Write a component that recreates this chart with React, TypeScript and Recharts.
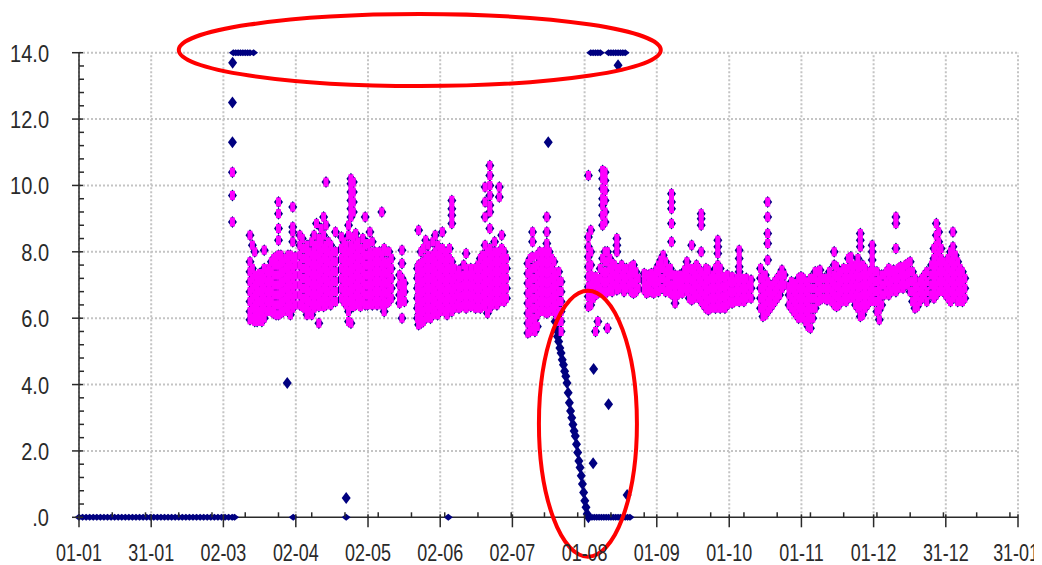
import React from 'react'
import { ScatterChart, Scatter, XAxis, YAxis, ReferenceLine, ReferenceDot } from 'recharts'

// axis ticks (day of year / value)
const dayTicks = [0, 30.4, 60.8, 91.3, 121.7, 152.1, 182.5, 212.9, 243.3, 273.8, 304.2, 334.6, 365, 395.4]
const dayLabels = ['01-01', '31-01', '02-03', '02-04', '02-05', '02-06', '02-07', '01-08', '01-09', '01-10', '01-11', '01-12', '31-12', '31-01']
const minorDayTicks = [14, 28, 42, 56, 70, 84, 98, 112, 126, 140, 154, 168, 182, 196, 210, 224, 238, 252, 266, 280, 294, 308, 322, 336, 350, 364, 378, 392]
const valueTicks = [0, 0.4, 0.8, 1.2, 1.6, 2, 2.4, 2.8, 3.2, 3.6, 4, 4.4, 4.8, 5.2, 5.6, 6, 6.4, 6.8, 7.2, 7.6, 8, 8.4, 8.8, 9.2, 9.6, 10, 10.4, 10.8, 11.2, 11.6, 12, 12.4, 12.8, 13.2, 13.6, 14]
const majorValues = [0, 2, 4, 6, 8, 10, 12, 14]
const valueLabels = ['.0', '2.0', '4.0', '6.0', '8.0', '10.0', '12.0', '14.0']

// raw readings only (not kept)
const zeroDays = [0, 1.5, 3, 4.5, 6, 7.5, 9, 10.5, 12, 13.5, 15, 16.5, 18, 19.5, 21, 22.5, 24, 25.5, 27, 28.5, 30, 31.5, 33, 34.5, 36, 37.5, 39, 40.5, 42, 43.5, 45, 46.5, 48, 49.5, 51, 52.5, 54, 55.5, 57, 58.5, 60, 61.5, 63, 64.5, 65.5,
  90.2, 112.5, 155.5,
  215, 216, 217, 218, 219, 220, 221, 222, 223, 224, 225, 226, 227, 228, 229, 230, 231, 232]
const capDays = [65, 66, 67, 68, 69, 70, 71, 72, 73.5, 215.5, 216.5, 217.5, 218.5, 219.5, 223, 224, 225, 226, 227, 228, 229, 230]
const rawOutliers = [
  [64.7, 13.7], [64.6, 12.5], [64.6, 11.3], [87.7, 4.05], [112.5, 0.58], [197.6, 11.3],
  [227, 13.62], [216.7, 4.47], [223, 3.41], [216.5, 1.63], [230.8, 0.67],
]
const decline = [
  [200.5, 5.9], [201, 5.65], [201.5, 5.45], [202, 5.3], [202.5, 5.1], [203, 4.95], [203.5, 4.75], [204, 4.6],
  [204.5, 4.4], [205, 4.25], [205.5, 4.05], [206, 3.75], [206.5, 3.45], [207, 3.2], [207.5, 3.0], [208, 2.8],
  [208.5, 2.6], [209, 2.45], [209.5, 2.2], [210, 1.95], [210.5, 1.7], [211, 1.5], [211.5, 1.25], [212, 1.0],
  [212.5, 0.75], [213, 0.5], [213.5, 0.3], [214, 0.1], [214.5, 0],
]

// accepted readings: [day, value, value, ...]
const marchBand = [
  [64.6, 8.9, 9.7, 10.4],
  [72, 5.95, 6.2, 6.5, 6.8, 7.1, 7.4, 7.7, 8.5],
  [73, 6.0, 6.3, 6.6, 6.9, 7.2, 7.5, 8.2],
  [74, 5.9, 6.15, 6.4, 6.7, 7.0, 7.3, 8.0],
  [75, 5.9, 6.1, 6.35, 6.6, 6.9, 7.2],
  [76, 5.95, 6.2, 6.5, 6.8, 7.1, 7.35],
  [77, 5.9, 6.15, 6.4, 6.7, 7.0, 7.3],
  [78, 6.0, 6.3, 6.6, 6.9, 7.2, 7.5, 8.05],
  [79, 6.2, 6.5, 6.8, 7.1, 7.4],
  [80, 6.3, 6.6, 6.9, 7.2, 7.5],
  [81, 6.2, 6.5, 6.8, 7.1, 7.4, 7.7],
  [82, 6.15, 6.4, 6.7, 7.0, 7.3, 7.6, 7.8],
  [83, 6.1, 6.4, 6.7, 7.0, 7.3, 7.6, 7.85],
  [84, 6.1, 6.4, 6.7, 7.0, 7.3, 7.6, 7.9, 8.35, 8.7, 9.15, 9.5],
  [85, 6.15, 6.45, 6.75, 7.05, 7.35, 7.65, 7.9],
  [86, 6.2, 6.5, 6.8, 7.1, 7.4, 7.7],
  [87, 6.3, 6.6, 6.9, 7.2, 7.5, 7.8],
  [88, 6.2, 6.5, 6.8, 7.1, 7.4, 7.7, 7.9],
  [89, 6.1, 6.4, 6.7, 7.0, 7.3, 7.6, 7.9],
  [90, 6.3, 6.6, 6.9, 7.2, 7.5, 7.8, 8.3, 8.6, 8.75, 9.35],
  [91, 6.4, 6.7, 7.0, 7.3, 7.6, 7.85],
]
const aprilBand = [
  [93, 6.4, 6.7, 7.0, 7.3, 7.6, 7.9, 8.2, 8.5],
  [94, 6.35, 6.6, 6.9, 7.2, 7.5, 7.8, 8.1, 8.4],
  [95, 6.3, 6.6, 6.9, 7.2, 7.5, 7.8, 8.1],
  [96, 6.1, 6.4, 6.7, 7.0, 7.3, 7.6, 7.9, 8.2],
  [97, 6.2, 6.5, 6.8, 7.1, 7.4, 7.7, 8.0],
  [98, 6.1, 6.4, 6.7, 7.0, 7.3, 7.6, 7.9, 8.3],
  [99, 6.3, 6.6, 6.9, 7.2, 7.5, 7.8, 8.1, 8.5],
  [100, 6.4, 6.7, 7.0, 7.3, 7.6, 7.9, 8.2, 8.85],
  [101, 5.85, 6.35, 6.6, 6.9, 7.2, 7.5, 7.8, 8.1, 8.4],
  [102, 6.5, 6.8, 7.1, 7.4, 7.7, 8.0, 8.3, 8.7],
  [103, 6.35, 6.6, 6.9, 7.2, 7.5, 7.8, 8.1, 8.5, 9.05],
  [104, 6.4, 6.7, 7.0, 7.3, 7.6, 7.9, 8.2, 8.8, 10.1],
  [105, 6.5, 6.8, 7.1, 7.4, 7.7, 8.0, 8.3],
  [106, 6.4, 6.7, 7.0, 7.3, 7.6, 7.9, 8.2],
  [107, 6.5, 6.8, 7.1, 7.4, 7.7, 8.0],
  [108, 6.5, 6.8, 7.1, 7.4, 7.7, 8.0, 8.6],
]
const mayBand = [
  [110.5, 6.6, 6.9, 7.2, 7.5, 7.8, 8.1, 8.45],
  [111.5, 6.5, 6.8, 7.1, 7.4, 7.7, 8.0, 8.3],
  [112.5, 6.4, 6.7, 7.0, 7.3, 7.6, 7.9, 8.2],
  [113.5, 5.9, 6.2, 6.5, 6.8, 7.1, 7.4, 7.7, 8.0, 8.5, 8.8],
  [114.5, 5.85, 6.4, 6.7, 7.0, 7.3, 7.6, 7.9, 8.2, 9.05, 9.3, 9.55, 9.8, 10.05, 10.2],
  [115.5, 6.35, 6.6, 6.9, 7.2, 7.5, 7.8, 8.1, 8.45, 9.2, 9.5, 9.8, 10.1],
  [116.5, 6.4, 6.7, 7.0, 7.3, 7.6, 7.9, 8.2, 8.55],
  [117.5, 6.5, 6.8, 7.1, 7.4, 7.7, 8.0, 8.3],
  [118.5, 6.35, 6.6, 6.9, 7.2, 7.5, 7.8, 8.1],
  [119.5, 6.5, 6.8, 7.1, 7.4, 7.7, 8.0, 8.4],
  [120.5, 6.4, 6.7, 7.0, 7.3, 7.6, 7.9, 8.2, 9.05],
  [121.5, 6.4, 6.7, 7.0, 7.3, 7.6, 7.9, 8.25],
  [122.5, 6.5, 6.8, 7.1, 7.4, 7.7, 8.0, 8.6],
  [123.5, 6.4, 6.7, 7.0, 7.3, 7.6, 7.9, 8.3],
  [124.5, 6.5, 6.8, 7.1, 7.4, 7.7, 8.0],
  [125.5, 6.4, 6.7, 7.0, 7.3, 7.6, 7.9],
  [126.5, 6.5, 6.8, 7.1, 7.4, 7.7, 8.0],
  [127.5, 6.4, 6.7, 7.0, 7.3, 7.6, 7.9, 9.2],
  [128.5, 6.2, 6.5, 6.8, 7.1, 7.4, 7.7, 8.1],
  [129.5, 6.45, 6.75, 7.05, 7.35, 7.65, 8.0],
  [130.5, 6.5, 6.8, 7.1, 7.4, 7.7, 8.0],
  [131.5, 6.6, 6.9, 7.2, 7.5, 7.8],
  [135, 6.45, 6.7, 7.0, 7.3],
  [136, 6.0, 6.6, 6.9, 7.2, 7.65, 8.05],
  [137, 6.5, 6.8, 7.05],
]
const juneBand = [
  [142.5, 6.0, 6.3, 6.6, 6.9, 7.2, 7.5],
  [143, 5.8, 6.1, 6.4, 6.7, 7.0, 7.3, 7.6, 8.65],
  [144, 5.85, 6.15, 6.45, 6.75, 7.05, 7.35, 7.65, 8.0],
  [145, 5.9, 6.2, 6.5, 6.8, 7.1, 7.4, 7.7, 8.1],
  [146, 6.0, 6.3, 6.6, 6.9, 7.2, 7.5, 7.8, 8.35],
  [147, 6.1, 6.4, 6.7, 7.0, 7.3, 7.6, 7.9, 8.2],
  [148, 6.0, 6.3, 6.6, 6.9, 7.2, 7.5, 7.8],
  [149, 6.1, 6.4, 6.7, 7.0, 7.3, 7.6, 7.9, 8.3],
  [150, 6.2, 6.5, 6.8, 7.1, 7.4, 7.7, 8.0, 8.5],
  [151, 6.1, 6.4, 6.7, 7.0, 7.3, 7.6, 7.9, 8.2],
  [152, 6.2, 6.5, 6.8, 7.1, 7.4, 7.7, 8.0],
  [153, 6.3, 6.6, 6.9, 7.2, 7.5, 7.8, 8.1, 8.6],
  [154, 6.2, 6.5, 6.8, 7.1, 7.4, 7.7, 8.0],
  [155, 6.1, 6.4, 6.7, 7.0, 7.3, 7.6, 7.9],
  [156, 6.3, 6.6, 6.9, 7.2, 7.5, 7.8, 8.1],
  [157, 6.2, 6.5, 6.8, 7.1, 7.4, 7.7, 8.85, 9.1, 9.3, 9.55],
  [158, 6.3, 6.6, 6.9, 7.2, 7.5],
  [159, 6.4, 6.7, 7.0, 7.3],
  [160, 6.3, 6.6, 6.9, 7.2, 7.45],
  [161, 6.35, 6.65, 6.95, 7.25],
  [162, 6.4, 6.7, 7.0, 7.3, 7.6],
  [163, 6.3, 6.6, 6.9, 7.2, 7.5, 7.95],
  [164, 6.4, 6.7, 7.0, 7.3],
  [165, 6.35, 6.65, 6.95, 7.25, 7.5],
  [166, 6.4, 6.7, 7.0, 7.3],
  [167, 6.3, 6.6, 6.9, 7.2, 7.5],
  [168, 6.4, 6.7, 7.0, 7.3, 7.6],
  [169, 6.3, 6.6, 6.9, 7.2, 7.5, 7.8],
  [170, 6.4, 6.7, 7.0, 7.3, 7.6, 7.9],
  [171, 6.35, 6.65, 6.95, 7.25, 7.55, 7.85, 8.2, 9.05, 9.5, 9.95],
  [172, 6.15, 6.5, 6.8, 7.1, 7.4, 7.7, 8.0],
  [173, 6.3, 6.6, 6.9, 7.2, 7.5, 7.8, 8.1, 8.7, 9.2, 9.4, 9.7, 10.0, 10.3, 10.6],
  [174, 6.4, 6.7, 7.0, 7.3, 7.6, 7.9],
  [175, 6.5, 6.8, 7.1, 7.4, 7.7, 8.0, 8.3],
  [176, 6.4, 6.7, 7.0, 7.3, 7.6, 7.9],
  [177, 6.5, 6.8, 7.1, 7.4, 7.7, 8.0, 9.65, 9.95],
  [178, 6.6, 6.9, 7.2, 7.5, 7.8, 8.1, 8.5],
  [179, 6.5, 6.8, 7.1, 7.4, 7.7, 8.0],
  [180, 6.6, 6.9, 7.2, 7.5, 7.8],
]
const julyBand = [
  [189, 5.55, 5.85, 6.15, 6.45, 6.75, 7.05, 7.35, 7.65],
  [190, 5.6, 5.9, 6.2, 6.5, 6.8, 7.1, 7.4, 7.8],
  [191, 5.7, 6.0, 6.3, 6.6, 6.9, 7.2, 7.5, 7.85, 8.3, 8.6],
  [192, 5.6, 5.95, 6.3, 6.6, 6.9, 7.2, 7.55],
  [193, 5.75, 6.1, 6.4, 6.7, 7.0, 7.3, 7.6, 7.9],
  [194, 6.2, 6.5, 6.8, 7.1, 7.4, 7.7, 8.0],
  [195, 6.3, 6.6, 6.9, 7.2, 7.5, 7.8],
  [196, 6.2, 6.5, 6.8, 7.1, 7.4, 7.7, 8.0],
  [197, 6.15, 6.45, 6.75, 7.05, 7.35, 7.65, 7.95, 8.25, 8.6, 9.05],
  [198, 6.2, 6.5, 6.8, 7.1, 7.4, 7.7, 8.0],
  [199, 6.3, 6.6, 6.9, 7.2, 7.5, 7.8],
  [200, 6.2, 6.5, 6.8, 7.1, 7.4, 7.7],
  [201, 6.1, 6.4, 6.7, 7.0, 7.3],
  [202, 5.9, 6.2, 6.5, 6.8, 7.1, 7.4],
  [203, 5.6, 5.9, 6.2, 6.5, 6.8, 7.1],
]
const augustBand = [
  [214.5, 6.35, 6.65, 6.95, 7.25, 7.55, 7.85, 8.15, 8.45, 10.3],
  [215.5, 6.4, 6.7, 7.0, 7.3, 7.6, 8.0, 8.65],
  [216.5, 6.6, 6.9, 7.2],
  [217.5, 5.6, 6.7, 7.0, 7.25],
  [218.5, 5.9, 6.75, 7.1],
  [219.5, 6.9, 7.2, 7.5],
  [220.5, 6.8, 7.1, 7.4, 7.8, 8.8, 9.1, 9.4, 9.6, 9.9, 10.2, 10.45],
  [221.5, 6.75, 7.05, 7.35, 7.7, 8.0, 8.9, 9.2, 9.55, 9.85, 10.15, 10.4],
  [222.5, 5.7, 6.8, 7.1, 7.4, 7.7, 8.0],
  [223.5, 6.9, 7.2, 7.5, 7.8],
  [224.5, 6.8, 7.1, 7.4, 7.65],
  [225.5, 7.0, 7.3, 7.6],
  [226.5, 6.85, 7.15, 7.45, 8.0, 8.2, 8.4],
  [227.5, 6.9, 7.2, 7.5],
  [228.5, 7.0, 7.3, 7.6],
  [229.5, 6.8, 7.1, 7.4],
  [230.5, 6.9, 7.2, 7.5],
  [231.5, 7.0, 7.3],
  [232.5, 6.8, 7.1, 7.4, 7.55],
  [233.5, 6.75, 7.05, 7.35, 7.6],
  [234.5, 6.8, 7.1, 7.4],
  [235.5, 6.9, 7.2],
]
const autumnBand = [
  [238, 6.85, 7.1, 7.35],
  [239, 6.75, 7.0, 7.3],
  [240, 6.8, 7.05, 7.3],
  [241, 6.8, 7.1, 7.35],
  [242, 6.75, 7.05, 7.3],
  [243, 6.9, 7.2, 7.45],
  [244, 6.8, 7.1, 7.4, 7.6],
  [245, 6.9, 7.2, 7.5, 7.75],
  [246, 6.9, 7.2, 7.5, 7.9],
  [247, 6.8, 7.1, 7.4, 7.7],
  [248, 6.9, 7.2, 7.5],
  [249, 6.75, 7.0, 7.3, 7.5],
  [249.5, 8.3, 8.85, 9.3, 9.5, 9.75],
  [250, 6.7, 7.0, 7.3],
  [251, 6.45, 6.75, 7.05, 7.3],
  [252, 6.7, 7.0, 7.25],
  [253, 6.8, 7.05, 7.3],
  [254, 6.75, 7.0, 7.25],
  [255, 6.9, 7.2, 7.45],
  [256, 6.8, 7.1, 7.4, 7.7],
  [257, 6.6, 6.9, 7.2, 7.5],
  [258, 6.55, 6.85, 7.15, 7.45, 8.2],
  [259, 6.6, 6.9, 7.2, 7.5],
  [260, 6.7, 7.0, 7.3, 7.6],
  [261, 6.6, 6.9, 7.2, 7.5],
  [262, 6.5, 6.8, 7.1, 7.4, 8.0, 8.8, 9.0, 9.15],
  [263, 6.4, 6.7, 7.0, 7.3],
  [264, 6.3, 6.6, 6.9, 7.2, 7.5],
  [265, 6.25, 6.55, 6.85, 7.15, 7.45],
  [266, 6.3, 6.6, 6.9, 7.2],
  [267, 6.4, 6.7, 7.0, 7.3],
  [268, 6.3, 6.6, 6.9, 7.2, 7.5],
  [269, 6.4, 6.7, 7.0, 7.3, 7.6, 7.95, 8.15, 8.35],
  [270, 6.3, 6.6, 6.9, 7.2, 7.5],
  [271, 6.35, 6.65, 6.95, 7.25],
  [272, 6.3, 6.6, 6.9, 7.2],
  [273, 6.4, 6.7, 7.0, 7.3],
  [274, 6.5, 6.8, 7.1],
  [275, 6.45, 6.75, 7.05, 7.25],
  [276, 6.5, 6.8, 7.1],
  [277, 6.6, 6.9, 7.2],
  [278, 6.5, 6.8, 7.1, 7.4, 7.55, 7.8, 8.05],
  [279, 6.6, 6.9, 7.2],
  [280, 6.5, 6.8, 7.1],
  [281, 6.6, 6.9, 7.2],
  [282, 6.7, 7.0],
  [283, 6.6, 6.9, 7.15],
  [287, 6.3, 6.6, 6.9, 7.2, 7.5],
  [288, 6.05, 6.35, 6.65, 6.95, 7.25],
  [289, 6.1, 6.4, 6.7, 7.0, 7.3],
  [290, 6.2, 6.5, 6.8, 7.1, 7.75, 8.25, 8.55, 9.05, 9.5],
  [291, 6.3, 6.6, 6.9],
  [292, 6.4, 6.7, 7.0],
  [293, 6.5, 6.8, 7.1],
  [294, 6.6, 6.9, 7.2],
  [295, 6.7, 7.0, 7.3],
  [296, 6.9, 7.2, 7.45],
  [297, 7.0, 7.3],
]
const winterBand = [
  [299, 6.4, 6.7, 6.95],
  [300, 6.3, 6.6, 6.9, 7.1],
  [301, 6.2, 6.5, 6.8, 7.05],
  [302, 6.1, 6.4, 6.7, 7.0],
  [303, 6.0, 6.3, 6.6, 6.9, 7.2],
  [304, 6.1, 6.4, 6.7, 7.0, 7.25],
  [305, 6.0, 6.3, 6.6, 6.9, 7.2],
  [306, 5.9, 6.2, 6.5, 6.8, 7.1],
  [307, 5.75, 6.05, 6.35, 6.65, 6.95],
  [308, 5.7, 6.0, 6.3, 6.6, 6.9, 7.2],
  [309, 6.0, 6.3, 6.6, 6.9, 7.2],
  [310, 6.3, 6.6, 6.9, 7.2, 7.4],
  [311, 6.5, 6.8, 7.1, 7.4],
  [312, 6.55, 6.85, 7.15, 7.45],
  [313, 6.6, 6.9, 7.2],
  [314, 6.6, 6.9, 7.2],
  [315, 6.55, 6.85, 7.15],
  [316, 6.6, 6.9, 7.2, 7.4],
  [317, 6.5, 6.8, 7.1],
  [318, 6.4, 6.7, 7.0, 7.3, 7.6, 8.0],
  [319, 6.35, 6.65, 6.95, 7.25, 7.55],
  [320, 6.4, 6.7, 7.0, 7.3],
  [321, 6.5, 6.8, 7.1, 7.4],
  [322, 6.6, 6.9, 7.2, 7.5],
  [323, 6.5, 6.8, 7.1, 7.4],
  [324, 6.6, 6.9, 7.2, 7.5, 7.8],
  [325, 6.7, 7.0, 7.3, 7.6, 7.85],
  [326, 6.6, 6.9, 7.2, 7.5],
  [327, 6.4, 6.7, 7.0, 7.3, 7.6],
  [328, 6.3, 6.6, 6.9, 7.2, 7.5, 7.8],
  [329, 6.05, 6.35, 6.65, 6.95, 7.25, 7.55, 8.15, 8.35, 8.55],
  [330, 6.1, 6.4, 6.7, 7.0, 7.3, 7.6],
  [331, 6.3, 6.6, 6.9, 7.2, 7.5],
  [332, 6.4, 6.7, 7.0, 7.3],
  [333, 6.5, 6.8, 7.1, 7.4],
  [334, 6.6, 6.9, 7.2, 7.5, 7.75, 8.0, 8.2],
  [335, 6.5, 6.8, 7.1, 7.4],
  [336, 6.2, 6.5, 6.8, 7.1, 7.4],
  [337, 5.95, 6.25, 6.55, 6.85, 7.15],
  [338, 6.4, 6.7, 7.0, 7.3],
  [339, 6.7, 7.0, 7.3],
  [340, 6.8, 7.1, 7.4],
  [341, 6.7, 7.0, 7.3, 7.5],
  [342, 6.8, 7.1, 7.4],
  [343, 6.9, 7.2, 7.45],
  [344, 6.8, 7.1, 7.4, 8.1, 8.85, 9.05],
  [345, 6.9, 7.2, 7.5],
  [346, 7.0, 7.3, 7.55],
  [347, 6.9, 7.2, 7.5],
  [348, 7.0, 7.3, 7.6],
  [349, 7.05, 7.35, 7.65],
  [350, 6.8, 7.1, 7.4, 7.7],
  [351, 6.5, 6.8, 7.1, 7.4],
  [352, 6.3, 6.6, 6.9, 7.2],
  [353, 6.35, 6.65, 6.95],
  [354, 6.5, 6.8, 7.1],
  [355, 6.6, 6.9, 7.2],
  [356, 6.7, 7.0, 7.3],
  [357, 6.5, 6.8, 7.1, 7.4],
  [359, 6.7, 7.0, 7.3, 7.6],
  [360, 6.6, 6.9, 7.2, 7.5, 7.8, 8.1],
  [361, 6.7, 7.0, 7.3, 7.6, 7.9, 8.2, 8.5, 8.85],
  [362, 6.8, 7.1, 7.4, 7.7, 8.0, 8.3, 8.6],
  [363, 6.9, 7.2, 7.5, 7.8, 8.1],
  [364, 6.8, 7.1, 7.4, 7.7],
  [365, 6.7, 7.0, 7.3, 7.6],
  [366, 6.6, 6.9, 7.2, 7.5, 7.8],
  [367, 6.5, 6.8, 7.1, 7.4, 7.7, 8.0],
  [368, 6.6, 6.9, 7.2, 7.5, 7.8, 8.15, 8.6],
  [369, 6.7, 7.0, 7.3, 7.6, 7.9],
  [370, 6.5, 6.8, 7.1, 7.4, 7.7],
  [371, 6.6, 6.9, 7.2, 7.5],
  [372, 6.5, 6.8, 7.1, 7.4],
  [373, 6.6, 6.9, 7.2],
]

const fromRows = (rows: number[][]) =>
  rows.flatMap(([day, ...vals]) => vals.map((value) => ({ day, value })))

const acceptedPoints = [marchBand, aprilBand, mayBand, juneBand, julyBand, augustBand, autumnBand, winterBand].flatMap(fromRows)
const limitPoints = [
  ...zeroDays.map((day) => ({ day, value: 0 })),
  ...capDays.map((day) => ({ day, value: 14 })),
]
const rawPoints = [
  ...rawOutliers.map(([day, value]) => ({ day, value })),
  ...decline.map(([day, value]) => ({ day, value })),
  ...acceptedPoints,
]

const NAVY = '#000080'
const PINK = '#ff00ff'
const GRID = '#c4c4c4'
const INK = '#2a2a2a'
const FONT = "'Liberation Sans', Arial, sans-serif"

const diamond = (cx: number, cy: number, rx: number, ry: number) =>
  `${cx},${cy - ry} ${cx + rx},${cy} ${cx},${cy + ry} ${cx - rx},${cy}`

const NavyMark = (p: any) => <polygon points={diamond(p.cx, p.cy, 4.5, 6)} fill={NAVY} />
const FlatMark = (p: any) => <polygon points={diamond(p.cx, p.cy, 4.5, 3.5)} fill={NAVY} />
const PinkMark = (p: any) => <rect x={p.cx - 2.5} y={p.cy - 4.5} width={5} height={9} fill={PINK} />

function DayTick({ x, y, payload }: any) {
  const i = dayTicks.indexOf(payload.value)
  if (i < 0) return <line x1={x} x2={x} y1={y - 5} y2={y} stroke={INK} strokeWidth={1.5} />
  const last = i === dayTicks.length - 1
  return (
    <g>
      <line x1={x} x2={x} y1={y - 3} y2={y + 10} stroke={INK} strokeWidth={1.5} />
      <text
        transform={`translate(${last ? x + 21 : x},${y + 44}) scale(0.78,1)`}
        textAnchor={last ? 'end' : 'middle'}
        fontSize={23}
        fontFamily={FONT}
        fill={INK}
      >
        {dayLabels[i]}
      </text>
    </g>
  )
}

function ValueTick({ x, y, payload }: any) {
  const i = majorValues.indexOf(payload.value)
  if (i < 0) return <line x1={x} x2={x + 5} y1={y} y2={y} stroke={INK} strokeWidth={1.5} />
  return (
    <g>
      <line x1={x - 7} x2={x + 4} y1={y} y2={y} stroke={INK} strokeWidth={1.5} />
      <text transform={`translate(${x - 30},${y + 9}) scale(0.87,1)`} textAnchor="end" fontSize={23} fontFamily={FONT} fill={INK}>
        {valueLabels[i]}
      </text>
    </g>
  )
}

const ring = (rx: number, ry: number) => (p: any) => (
  <ellipse cx={p.cx} cy={p.cy} rx={rx} ry={ry} fill="none" stroke="#ff0000" strokeWidth={4} />
)

export default function App() {
  return (
    <>
      <style>{'body { overflow: hidden; }'}</style>
      <ScatterChart width={1034} height={557} margin={{ top: 44.7, right: 24, bottom: 7.7, left: 0 }}>
        {dayTicks.map((d) => (
          <ReferenceLine key={'v' + d} x={d} stroke={GRID} strokeWidth={2} strokeDasharray="2 2" />
        ))}
        {majorValues.slice(1).map((v) => (
          <ReferenceLine key={'h' + v} y={v} stroke={GRID} strokeWidth={2} strokeDasharray="2 2" />
        ))}
        <XAxis
          type="number"
          dataKey="day"
          domain={[0, 395.4]}
          ticks={[...dayTicks, ...minorDayTicks]}
          interval={0}
          tick={<DayTick />}
          tickLine={false}
          tickSize={0}
          tickMargin={0}
          height={40}
          axisLine={{ stroke: INK, strokeWidth: 1.5 }}
        />
        <YAxis
          type="number"
          dataKey="value"
          domain={[0, 14]}
          ticks={valueTicks}
          interval={0}
          tick={<ValueTick />}
          tickLine={false}
          tickSize={0}
          tickMargin={0}
          width={71}
          axisLine={{ stroke: INK, strokeWidth: 1.5 }}
        />
        <Scatter data={limitPoints} shape={FlatMark} isAnimationActive={false} />
        <Scatter data={rawPoints} shape={NavyMark} isAnimationActive={false} />
        <Scatter data={acceptedPoints} shape={PinkMark} isAnimationActive={false} />
        <ReferenceDot x={143.5} y={14.08} r={1} ifOverflow="visible" shape={ring(241, 36)} />
        <ReferenceDot x={214.3} y={2.82} r={1} ifOverflow="visible" shape={ring(49, 133)} />
      </ScatterChart>
    </>
  )
}
